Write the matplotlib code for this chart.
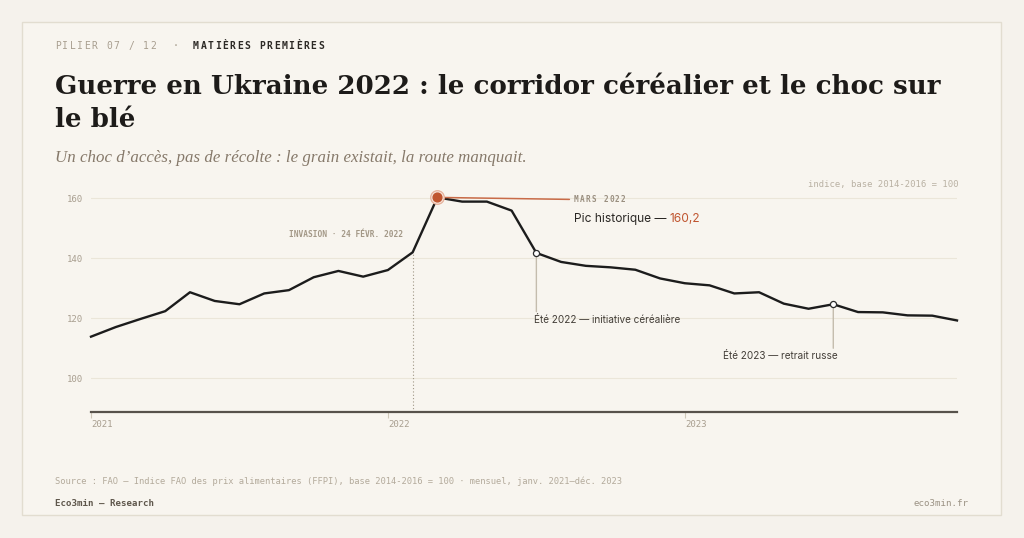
import matplotlib.pyplot as plt
import numpy as np
import pandas as pd
from matplotlib.patches import Rectangle

# -----------------------data: FAO food price index (FFPI), monthly-----------------------
months = pd.period_range('2021-01', '2023-12', freq='M')
ffpi = [113.8, 117.0, 119.7, 122.3, 128.6, 125.7, 124.6, 128.2, 129.3, 133.6, 135.7, 133.8,
        136.0, 141.9, 160.2, 158.8, 158.8, 155.8, 141.7, 138.7, 137.4, 136.9, 136.1, 133.2,
        131.6, 130.9, 128.2, 128.6, 124.8, 123.1, 124.6, 122.0, 121.9, 120.9, 120.8, 119.2]
year_labels = ['2021', '2022', '2023']
y_ticks = [100, 120, 140, 160]
invasion_month = '2022-02'
peak_month = '2022-03'
event_months = ['2022-07', '2023-07']
event_labels = ['Été 2022 — initiative céréalière', 'Été 2023 — retrait russe']

# -----------------------style-----------------------
W, H = 1024, 538
bg = '#f5f2ec'
card = '#f8f5ef'
ink = '#1c1c1c'
muted = '#a89e8f'
orange = '#c0552f'
mono = 'DejaVu Sans Mono'
serif = 'DejaVu Serif'


def fx(x):
    return x / W


def fy(y):
    return 1 - y / H


fig = plt.figure(figsize=(W / 100, H / 100), dpi=100, facecolor=bg)
fig.patches.append(Rectangle((fx(22), fy(515)), (1001 - 22) / W, (515 - 22) / H, transform=fig.transFigure,
                             facecolor=card, edgecolor='#e2ddd0', lw=1, zorder=-5))
r = fig.canvas.get_renderer()


def spaced(x, y, s, size, track, **kw):
    # monospace text with letter spacing, x/y in pixels from top-left, y = baseline
    adv = 0.602 * size * 100 / 72 + track
    for i, ch in enumerate(s):
        fig.text(fx(x + i * adv), fy(y), ch, fontsize=size, family=mono, va='baseline', ha='left', **kw)


# -----------------------header-----------------------
spaced(55, 49, 'PILIER 07 / 12', 7, 1.5, color=muted)
spaced(173, 49, '·', 7, 0, color=muted)
spaced(193, 49, 'MATIÈRES PREMIÈRES', 7, 1.5, color='#2d2a26', fontweight='bold')

title1 = fig.text(fx(55), fy(94), 'Guerre en Ukraine 2022 : le corridor céréalier et le choc sur', family=serif,
                  fontweight='bold', fontsize=20, color='#1d1b19', va='baseline')
# fit the first title line to the reference width
tw = title1.get_window_extent(renderer=r).width
title_size = 20 * 887 / tw
title1.set_fontsize(title_size)
fig.text(fx(55), fy(127), 'le blé', family=serif, fontweight='bold', fontsize=title_size,
         color='#1d1b19', va='baseline')
fig.text(fx(55), fy(162), 'Un choc d’accès, pas de récolte : le grain existait, la route manquait.',
         family='Liberation Serif', style='italic', fontsize=12.2, color='#86796a', va='baseline')

# -----------------------chart-----------------------
ax = fig.add_axes([fx(91), fy(412), (957 - 91) / W, (412 - 184.5) / H])
ax.set_facecolor('none')
x = np.arange(len(months))
ax.plot(x, ffpi, color=ink, lw=1.7, solid_joinstyle='round', zorder=3, clip_on=False)
ax.set_xlim(0, len(months) - 1)
ax.set_ylim(88.7, 164.5)

for s in ['top', 'right', 'left']:
    ax.spines[s].set_visible(False)
ax.spines['bottom'].set_color('#57524b')
ax.spines['bottom'].set_linewidth(1.6)

ax.set_yticks(y_ticks)
ax.set_yticklabels([str(v) for v in y_ticks], family=mono, fontsize=6.5, color=muted)
ax.tick_params(axis='y', length=0, pad=5.5)
ax.yaxis.grid(True, color='#ebe6d9', lw=0.8)
ax.set_axisbelow(True)

year_pos = [i for i, m in enumerate(months) if m.month == 1]
ax.set_xticks(year_pos)
ax.set_xticklabels(year_labels, ha='left', family=mono, fontsize=6.5, color=muted)
ax.tick_params(axis='x', length=4, width=0.8, color='#cfc8b9', pad=2)

month_keys = [str(m) for m in months]

# invasion marker
i_inv = month_keys.index(invasion_month)
ax.plot([i_inv, i_inv], [88.7, ffpi[i_inv]], ls=(0, (1, 2)), color='#a09685', lw=0.8, zorder=2)
ax.annotate('INVASION · 24 FÉVR. 2022', xy=(i_inv, ffpi[i_inv]), xytext=(-10, 18), textcoords='offset pixels',
            ha='right', va='center', family=mono, fontsize=5.7, color='#a39887', fontweight='bold')

# historic peak
i_pk = month_keys.index(peak_month)
v_pk = ffpi[i_pk]
ax.plot(i_pk, v_pk, 'o', ms=9.8, mfc='#f5e3da', mec='#e6b29c', mew=0.9, zorder=4, clip_on=False)
ax.plot(i_pk, v_pk, 'o', ms=6.3, color=orange, zorder=5, clip_on=False)
ax.annotate('', xy=(i_pk, v_pk), xytext=(132, -2), textcoords='offset pixels',
            arrowprops=dict(arrowstyle='-', color='#c96b48', lw=1.1, shrinkA=0, shrinkB=0), zorder=3)
px, py = ax.transData.transform((i_pk, v_pk))
spaced(px + 136.5, H - py + 4.8, 'MARS 2022', 5.6, 1.2, color='#9a8f80', fontweight='bold')
t1 = fig.text(fx(px + 136.5), fy(H - py + 22), 'Pic historique — ', family='Inter', fontsize=8.6,
              color='#2a2724', va='center')
bb = t1.get_window_extent(renderer=r)
fig.text(bb.x1 / W, fy(H - py + 22), f'{v_pk:.1f}'.replace('.', ','), family='Inter', fontsize=8.6,
         color=orange, va='center')

# summer events
offsets = [(-2.5, -67, -58.7, 'left'), (4, -52, -44, 'right')]
for m, lab, (dx, dy, dl, ha) in zip(event_months, event_labels, offsets):
    i = month_keys.index(m)
    ax.annotate('', xy=(i, ffpi[i]), xytext=(0, dl), textcoords='offset pixels',
                arrowprops=dict(arrowstyle='-', color='#c4bcad', lw=1, shrinkA=0, shrinkB=0), zorder=2)
    ax.plot(i, ffpi[i], 'o', ms=4.4, mfc='white', mec='#2b2b2b', mew=0.9, zorder=5)
    ax.annotate(lab, xy=(i, ffpi[i]), xytext=(dx, dy), textcoords='offset pixels', ha=ha, va='center',
                family='Inter', fontsize=7.2, color='#433e38')

fig.text(fx(958), fy(185), 'indice, base 2014-2016 = 100', ha='right', va='center', family=mono,
         fontsize=6.4, color='#b9b1a3')

# -----------------------footer-----------------------
fig.text(fx(55), fy(481), 'Source : FAO — Indice FAO des prix alimentaires (FFPI), base 2014-2016 = 100 · mensuel, '
         'janv. 2021–déc. 2023', va='center', family=mono, fontsize=6.3, color='#b3aa9b')
fig.text(fx(55), fy(503), 'Eco3min — Research', va='center', family=mono, fontsize=6.6, color='#5f574c',
         fontweight='bold')
fig.text(fx(968), fy(503), 'eco3min.fr', ha='right', va='center', family=mono, fontsize=6.6, color='#9b9284')

fig.savefig('out.png', dpi=100, facecolor=bg)
